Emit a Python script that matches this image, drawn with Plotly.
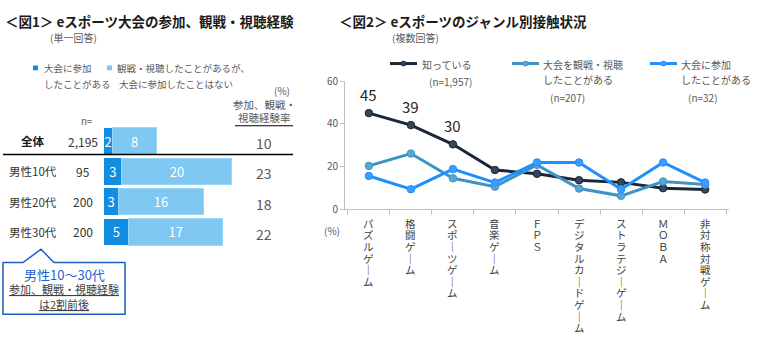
import plotly.graph_objects as go

W, H = 760, 349
FONT = "Noto Sans CJK JP"

# ---------------- data: chart 1 ----------------
groups = ["全体", "男性10代", "男性20代", "男性30代"]
n_values = ["2,195", "95", "200", "200"]
participated = [1.5, 3.3, 2.6, 4.6]          # 大会に参加したことがある
watched_only = [8.3, 20.4, 15.9, 17.4]       # 観戦・視聴したことがあるが、大会に参加したことはない
exp_rate = ["10", "23", "18", "22"]          # 参加、観戦・視聴経験率

# ---------------- data: chart 2 ----------------
genres = ["パズルゲーム", "格闘ゲーム", "スポーツゲーム", "音楽ゲーム", "ＦＰＳ",
          "デジタルカードゲーム", "ストラテジーゲーム", "ＭＯＢＡ", "非対称対戦ゲーム"]
known = [45.0, 39.4, 30.4, 18.4, 16.6, 13.6, 12.6, 9.9, 9.3]
watched = [20.3, 26.1, 14.5, 10.6, 20.8, 9.7, 6.3, 13.0, 11.6]
joined = [15.6, 9.4, 18.8, 12.5, 21.9, 21.9, 9.4, 21.9, 12.5]
series_names = ["知っている<br>(n=1,957)", "大会を観戦・視聴<br>したことがある<br>(n=207)",
                "大会に参加<br>したことがある<br>(n=32)"]


def px(x):
    return x / W


def py(y):
    return 1 - y / H


C_DARKBAR = "#138de0"
C_LIGHTBAR = "#7fc8f2"
C_KNOWN = "#1b2636"
C_KNOWN_M = "#34475c"
C_WATCH = "#3f93c4"
C_WATCH_M = "#5aa6d2"
C_JOIN = "#1e8fff"
C_JOIN_M = "#3a9dff"
GRAY = "#595959"
TXT = "#333333"

fig = go.Figure()

# ---------- chart 1 bars ----------
fig.add_trace(go.Bar(
    y=groups, x=participated, orientation="h", xaxis="x2", yaxis="y2",
    marker=dict(color=C_DARKBAR, line=dict(width=0)), width=0.88,
    text=participated, texttemplate="%{x:.0f}", textposition="inside",
    insidetextanchor="middle", textangle=0, constraintext="none",
    textfont=dict(color="white", size=13, family=FONT), showlegend=False,
    hoverinfo="skip"))
fig.add_trace(go.Bar(
    y=groups, x=watched_only, orientation="h", xaxis="x2", yaxis="y2",
    marker=dict(color=C_LIGHTBAR, line=dict(width=1, color="#9ad6f7")), width=0.88,
    text=watched_only, texttemplate="%{x:.0f}", textposition="inside",
    insidetextanchor="middle", textangle=0, constraintext="none",
    textfont=dict(color="white", size=13, family=FONT), showlegend=False,
    hoverinfo="skip"))

# ---------- chart 2 lines ----------
for vals, name, lc, mc in [(known, series_names[0], C_KNOWN, C_KNOWN_M),
                           (watched, series_names[1], C_WATCH, C_WATCH_M),
                           (joined, series_names[2], C_JOIN, C_JOIN_M)]:
    fig.add_trace(go.Scatter(
        x=genres, y=vals, mode="lines+markers", name=name,
        line=dict(color=lc, width=3), marker=dict(color=mc, size=7.5, line=dict(color=lc, width=1)),
        showlegend=False, hoverinfo="skip"))

ann = []
shapes = []

# data labels for first three of 知っている
for g, v in list(zip(genres, known))[:3]:
    ann.append(dict(x=g, y=v, xref="x", yref="y", text=f"{v:.0f}", showarrow=False,
                    yshift=19, font=dict(size=15, color="#262626", family=FONT)))

# vertical (tategaki) category labels: one character per row
for g in genres:
    for k, ch in enumerate(g):
        ann.append(dict(x=g, y=py(224 + k * 12.1), xref="x", yref="paper", xanchor="center",
                        yanchor="middle", text="｜" if ch == "ー" else ch, showarrow=False,
                        font=dict(size=10.5, color="#404040", family=FONT)))

# ---------- chart 1 texts ----------
ann.append(dict(x=px(3), y=py(13), xref="paper", yref="paper", xanchor="left", yanchor="middle",
                text="<b>＜図1＞ eスポーツ大会の参加、観戦・視聴経験</b>", showarrow=False,
                font=dict(size=13.5, color="#1a1a1a", family=FONT)))
ann.append(dict(x=px(48), y=py(30), xref="paper", yref="paper", xanchor="left", yanchor="middle",
                text="(単一回答)", showarrow=False, font=dict(size=10, color=GRAY, family=FONT)))

# legend chart 1
shapes.append(dict(type="rect", xref="paper", yref="paper", x0=px(33), x1=px(38), y0=py(59), y1=py(64),
                   fillcolor=C_DARKBAR, line=dict(width=0)))
shapes.append(dict(type="rect", xref="paper", yref="paper", x0=px(107), x1=px(112), y0=py(59), y1=py(64),
                   fillcolor=C_LIGHTBAR, line=dict(width=0)))
for txt, y in [("大会に参加", 62), ("したことがある", 78)]:
    ann.append(dict(x=px(42), y=py(y), xref="paper", yref="paper", xanchor="left", yanchor="middle",
                    text=txt, showarrow=False, font=dict(size=9.5, color=GRAY, family=FONT)))
for txt, x, y in [("観戦・視聴したことがあるが、", 115, 62), ("大会に参加したことはない", 117, 78)]:
    ann.append(dict(x=px(x), y=py(y), xref="paper", yref="paper", xanchor="left", yanchor="middle",
                    text=txt, showarrow=False, font=dict(size=9.5, color=GRAY, family=FONT)))

ann.append(dict(x=px(292), y=py(85), xref="paper", yref="paper", xanchor="right", yanchor="middle",
                text="(%)", showarrow=False, font=dict(size=10, color=GRAY, family=FONT)))
for txt, y in [("参加、観戦・", 100), ("視聴経験率", 113)]:
    ann.append(dict(x=px(264), y=py(y), xref="paper", yref="paper", xanchor="center", yanchor="middle",
                    text=txt, showarrow=False, font=dict(size=10.5, color=GRAY, family=FONT)))
ann.append(dict(x=px(86), y=py(117), xref="paper", yref="paper", xanchor="center", yanchor="middle",
                text="n=", showarrow=False, font=dict(size=9.5, color=GRAY, family=FONT)))

shapes.append(dict(type="line", xref="paper", yref="paper", x0=px(235), x1=px(293), y0=py(122), y1=py(122),
                   line=dict(color="#000000", width=1)))
shapes.append(dict(type="line", xref="paper", yref="paper", x0=px(3), x1=px(293), y0=py(152), y1=py(152),
                   line=dict(color="#000000", width=1.5)))

for i, (g, n, r) in enumerate(zip(groups, n_values, exp_rate)):
    ann.append(dict(x=px(33), y=g, xref="paper", yref="y2", xanchor="center", yanchor="middle",
                    text=f"<b>{g}</b>" if i == 0 else g, showarrow=False,
                    font=dict(size=11.5, color="#1a1a1a" if i == 0 else TXT, family=FONT)))
    ann.append(dict(x=px(83), y=g, xref="paper", yref="y2", xanchor="center", yanchor="middle",
                    text=n, showarrow=False, font=dict(size=12, color=TXT, family=FONT)))
    ann.append(dict(x=px(264), y=g, xref="paper", yref="y2", xanchor="center", yanchor="middle",
                    text=r, showarrow=False, yshift=-2, font=dict(size=14, color=GRAY, family=FONT)))

# callout
pts = [(3, 265), (23, 265), (41, 251), (54, 265), (125, 265), (125, 319), (3, 319)]
path = "M " + " L ".join(f"{px(x)},{py(y)}" for x, y in pts) + " Z"
shapes.append(dict(type="path", xref="paper", yref="paper", path=path, fillcolor="white",
                   line=dict(color="#1f5fc4", width=1.5)))
ann.append(dict(x=px(64), y=py(277), xref="paper", yref="paper", xanchor="center", yanchor="middle",
                text="男性10～30代", showarrow=False, font=dict(size=13, color="#1f5fcf", family=FONT)))
for txt, y in [("<u>参加、観戦・視聴経験</u>", 293), ("<u>は2割前後</u>", 308)]:
    ann.append(dict(x=px(64), y=py(y), xref="paper", yref="paper", xanchor="center", yanchor="middle",
                    text=txt, showarrow=False, font=dict(size=11, color="#404040", family=FONT)))

# ---------- chart 2 texts ----------
ann.append(dict(x=px(337), y=py(13), xref="paper", yref="paper", xanchor="left", yanchor="middle",
                text="<b>＜図2＞ eスポーツのジャンル別接触状況</b>", showarrow=False,
                font=dict(size=13.5, color="#1a1a1a", family=FONT)))
ann.append(dict(x=px(390), y=py(30), xref="paper", yref="paper", xanchor="left", yanchor="middle",
                text="(複数回答)", showarrow=False, font=dict(size=10, color=GRAY, family=FONT)))
ann.append(dict(x=px(332), y=py(231), xref="paper", yref="paper", xanchor="center", yanchor="middle",
                text="(%)", showarrow=False, font=dict(size=10, color=GRAY, family=FONT)))

# legend chart 2 (manual)
leg = [(390, 420, series_names[0], C_KNOWN, C_KNOWN_M),
       (512, 541, series_names[1], C_WATCH, C_WATCH_M),
       (650, 679, series_names[2], C_JOIN, C_JOIN_M)]
for x0, tx, name, lc, mc in leg:
    shapes.append(dict(type="line", xref="paper", yref="paper", x0=px(x0), x1=px(x0 + 27),
                       y0=py(57), y1=py(57), line=dict(color=lc, width=3)))
    shapes.append(dict(type="circle", xref="paper", yref="paper", x0=px(x0 + 11), x1=px(x0 + 16),
                       y0=py(54.5), y1=py(59.5), fillcolor=mc, line=dict(color=lc, width=1)))
    parts = name.split("<br>")
    for j, p in enumerate(parts):
        is_n = p.startswith("(")
        yy = 58 + j * 16 + (2 if is_n and j > 0 else 0)
        ann.append(dict(x=px(tx + (7 if is_n else 0)), y=py(yy), xref="paper", yref="paper",
                        xanchor="left", yanchor="middle", text=p, showarrow=False,
                        font=dict(size=10, color=GRAY, family=FONT)))

fig.update_layout(
    width=W, height=H, margin=dict(l=0, r=0, t=0, b=0),
    paper_bgcolor="white", plot_bgcolor="white", barmode="stack",
    font=dict(family=FONT, color=TXT),
    xaxis=dict(domain=[px(345), px(729)], type="category", tickson="boundaries",
               ticks="outside", ticklen=5, tickcolor="#bfbfbf", showline=True, linecolor="#bfbfbf",
               showgrid=False, showticklabels=False, fixedrange=True),
    yaxis=dict(domain=[py(209.3), py(75.3)], range=[0, 60], tickvals=[0, 20, 40, 60],
               ticks="outside", ticklen=4, tickcolor="#bfbfbf", showline=True, linecolor="#bfbfbf",
               showgrid=False, zeroline=False, tickfont=dict(size=10, color=GRAY, family=FONT)),
    xaxis2=dict(domain=[px(104), px(104 + 5.4 * 25)], range=[0, 25], visible=False, anchor="y2"),
    yaxis2=dict(domain=[py(248.8), py(122.2)], type="category", range=[3.5, -0.5],
                visible=False, anchor="x2"),
    annotations=ann, shapes=shapes,
)

fig.write_html("out.html")
